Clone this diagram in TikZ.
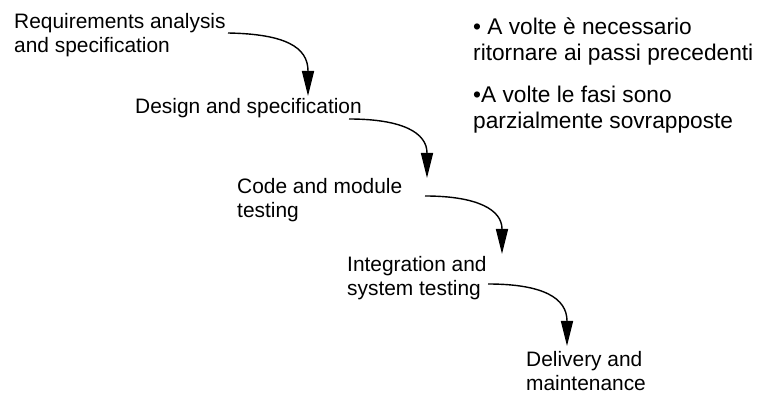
\documentclass[tikz,border=0pt]{standalone}
\usepackage{fontspec}
\setmainfont{Liberation Sans}
\usetikzlibrary{arrows.meta}
\begin{document}
\begin{tikzpicture}[x=1pt,y=-1pt,
  lbl/.style={anchor=base west,inner sep=0pt,align=left,font=\fontsize{20.9}{24}\selectfont},
  note/.style={anchor=base west,inner sep=0pt,align=left,font=\fontsize{22.7}{26}\selectfont},
  flow/.style={line width=1.4pt,-{Triangle[length=25pt,width=12pt]}}]
\useasboundingbox (0,0) rectangle (761,395);
\node[lbl] (req) at (14,53) {Requirements analysis\\and specification};
\node[lbl] (des) at (135,114) {Design and specification};
\node[lbl] (code) at (237,218) {Code and module\\testing};
\node[lbl] (int) at (347,296) {Integration and\\system testing};
\node[lbl] (del) at (526,391) {Delivery and\\maintenance};
\node[note] (n1) at (473,61) {\textbullet{} A volte è necessario\\ritornare ai passi precedenti};
\node[note] (n2) at (473,129) {\textbullet A volte le fasi sono\\parzialmente sovrapposte};
\coordinate (s1) at (228,33);  \coordinate (e1) at (308,96);
\coordinate (s2) at (349,119); \coordinate (e2) at (427,178);
\coordinate (s3) at (425,196); \coordinate (e3) at (502,254);
\coordinate (s4) at (488,284); \coordinate (e4) at (567,346);
\draw[flow] (s1) .. controls (285,34) and (308,47) .. (308,71) -- (e1);
\draw[flow] (s2) .. controls (403,119) and (427,133) .. (427,153) -- (e2);
\draw[flow] (s3) .. controls (478,196) and (502,210) .. (502,229) -- (e3);
\draw[flow] (s4) .. controls (543,284) and (567,298) .. (567,321) -- (e4);
\end{tikzpicture}
\end{document}
